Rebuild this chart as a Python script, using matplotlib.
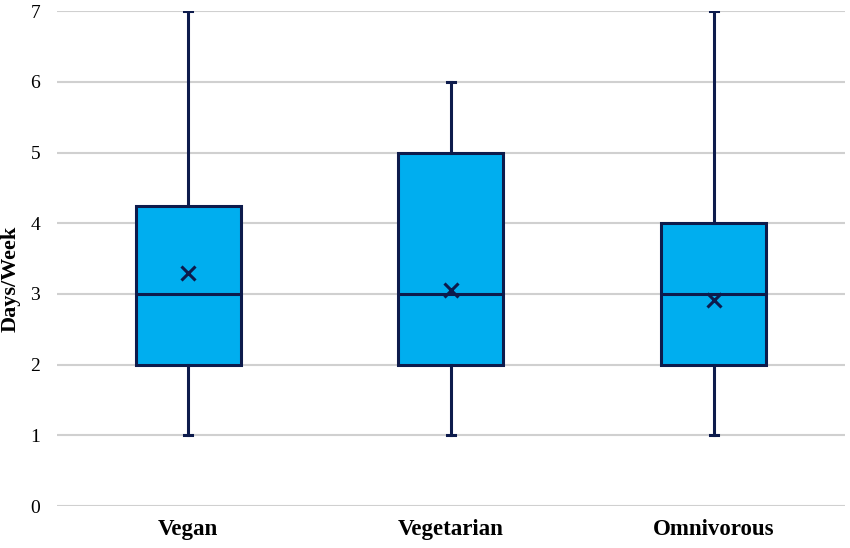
import matplotlib
matplotlib.use("Agg")
import matplotlib.pyplot as plt

categories = ["Vegan", "Vegetarian", "Omnivorous"]
mins = [1, 1, 1]
q1s = [2, 2, 2]
medians = [3, 3, 3]
q3s = [4.25, 5, 4]
maxs = [7, 6, 7]
means = [3.3, 3.05, 2.92]

box_color = "#00AEEF"
edge_color = "#0D1B4C"

plt.rcParams["font.family"] = ["Liberation Serif", "DejaVu Serif"]

fig = plt.figure(figsize=(8.5, 5.48), dpi=100)
ax = fig.add_axes([0.067, 0.0766, 0.927, 0.903])

stats = []
for i in range(len(categories)):
    stats.append({
        "label": categories[i],
        "whislo": mins[i],
        "q1": q1s[i],
        "med": medians[i],
        "q3": q3s[i],
        "whishi": maxs[i],
        "mean": means[i],
        "fliers": [],
    })

positions = list(range(len(categories)))
ax.bxp(stats, positions=positions, widths=0.4, capwidths=0.03,
       patch_artist=True, showmeans=True, showfliers=False,
       boxprops=dict(facecolor=box_color, edgecolor=edge_color, linewidth=2.2),
       whiskerprops=dict(color=edge_color, linewidth=2.2),
       capprops=dict(color=edge_color, linewidth=2.2),
       medianprops=dict(color=edge_color, linewidth=2.2),
       meanprops=dict(marker="x", markeredgecolor=edge_color, markersize=10,
                      markeredgewidth=2.2))

ax.set_xlim(-0.5, len(categories) - 0.5)
ax.set_ylim(0, 7)
ax.set_yticks(range(0, 8))
ax.yaxis.grid(True, color="#D0D0D0", linewidth=1.5)
ax.set_axisbelow(True)
for s in ax.spines.values():
    s.set_visible(False)
ax.tick_params(axis="both", length=0)
ax.tick_params(axis="y", labelsize=14, pad=12)
ax.tick_params(axis="x", labelsize=16.5, pad=9)
for lab in ax.get_xticklabels():
    lab.set_fontweight("bold")
ax.set_ylabel("Days/Week", fontsize=16, fontweight="bold")
ax.yaxis.set_label_coords(-0.046, 0.46)

fig.savefig("out.png", dpi=100)
